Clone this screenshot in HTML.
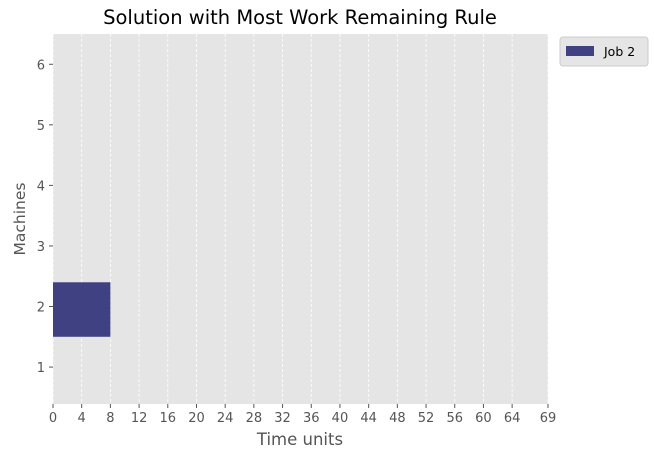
<!DOCTYPE html>
<html><head><meta charset="utf-8"><style>
body{margin:0;background:#fff;}
text{font-family:"DejaVu Sans","Liberation Sans",sans-serif;}
</style></head><body>
<svg id="chart" width="654" height="460">
<rect x="53" y="34" width="495" height="370" fill="#e5e5e5"/>
<g id="grid"></g><g id="bars"></g><g id="xticks"></g><g id="yticks"></g>
<text x="300" y="24" text-anchor="middle" style="font-size:19.5px" fill="#000">Solution with Most Work Remaining Rule</text>
<text x="300" y="445" text-anchor="middle" style="font-size:16.5px" fill="#555">Time units</text>
<text x="25" y="219" text-anchor="middle" style="font-size:15.5px" fill="#555" transform="rotate(-90 25 219)">Machines</text>
<g>
<rect x="560" y="37" width="88" height="29" rx="3" fill="#e5e5e5" stroke="#ccc"/>
<rect x="566" y="46" width="28" height="10" fill="#3f4182"/>
<text x="604" y="56" style="font-size:12.5px" fill="#000">Job 2</text>
</g>
</svg>
<script>
const xTicks=[0,4,8,12,16,20,24,28,32,36,40,44,48,52,56,60,64,69];
const yTicks=[1,2,3,4,5,6];
const jobs=["Job 2"];
const machines=[2];
const starts=[0];
const durations=[8];
const X0=53,X1=548,Y0=404,Y1=34,xmin=0,xmax=69,ymin=0.39,ymax=6.5;
const sx=v=>X0+(v-xmin)/(xmax-xmin)*(X1-X0);
const sy=v=>Y0-(v-ymin)/(ymax-ymin)*(Y0-Y1);
const ns="http://www.w3.org/2000/svg";
function mk(t,a,p){const e=document.createElementNS(ns,t);for(const k in a)e.setAttribute(k,a[k]);p.appendChild(e);return e;}
const g=document.getElementById('grid'),b=document.getElementById('bars'),xt=document.getElementById('xticks'),yt=document.getElementById('yticks');
xTicks.forEach(v=>{const x=sx(v);
const l=mk('line',{x1:x,x2:x,y1:Y1,y2:Y0,stroke:'#fff','stroke-dasharray':'3,2','stroke-width':0.8},g);


mk('line',{x1:x,x2:x,y1:Y0,y2:Y0+4,stroke:'#555'},xt);
const t=mk('text',{x:x,y:Y0+18,'text-anchor':'middle',style:'font-size:13px',fill:'#555'},xt);t.textContent=v;

});
yTicks.forEach(v=>{const y=sy(v);
mk('line',{x1:X0-4,x2:X0,y1:y,y2:y,stroke:'#555'},yt);
const t=mk('text',{x:X0-8,y:y+5,'text-anchor':'end',style:'font-size:13px',fill:'#555'},yt);t.textContent=v;

});
jobs.forEach((j,i)=>{const r=mk('rect',{x:sx(starts[i]),y:sy(machines[i]+0.4),width:sx(starts[i]+durations[i])-sx(starts[i]),height:sy(machines[i]-0.5)-sy(machines[i]+0.4),fill:'#3f4182'},b);

});
</script>
</body></html>
